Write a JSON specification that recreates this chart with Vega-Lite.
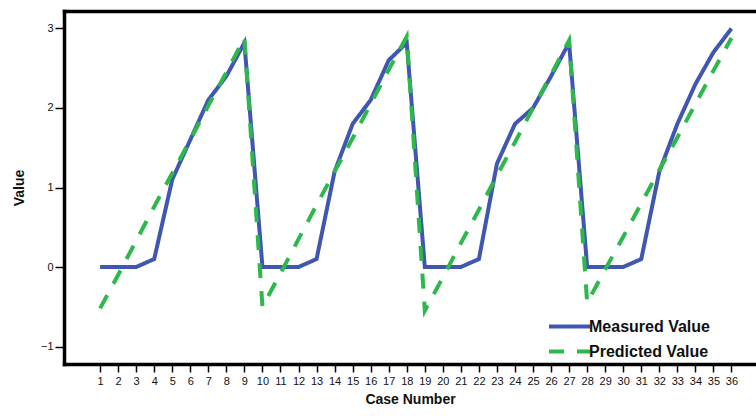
{
  "$schema": "https://vega.github.io/schema/vega-lite/v6.json",
  "width": 692,
  "height": 353,
  "autosize": {"type": "none"},
  "padding": {"left": 64, "top": 11, "right": 0, "bottom": 52},
  "background": "white",
  "config": {
    "view": {"stroke": null},
    "font": "Liberation Sans",
    "axis": {"grid": false, "domainColor": "#000", "domainWidth": 3.5, "domainCap": "square", "tickColor": "#000", "tickWidth": 1.5, "labelColor": "#111", "labelFontSize": 11, "titleColor": "#111", "titleFontSize": 14, "titleFontWeight": "bold"}
  },
  "data": {"values": [
    {"case": 1, "series": "Measured Value", "value": 0},
    {"case": 2, "series": "Measured Value", "value": 0},
    {"case": 3, "series": "Measured Value", "value": 0},
    {"case": 4, "series": "Measured Value", "value": 0.1},
    {"case": 5, "series": "Measured Value", "value": 1.1},
    {"case": 6, "series": "Measured Value", "value": 1.6},
    {"case": 7, "series": "Measured Value", "value": 2.1},
    {"case": 8, "series": "Measured Value", "value": 2.4},
    {"case": 9, "series": "Measured Value", "value": 2.82},
    {"case": 10, "series": "Measured Value", "value": 0},
    {"case": 11, "series": "Measured Value", "value": 0},
    {"case": 12, "series": "Measured Value", "value": 0},
    {"case": 13, "series": "Measured Value", "value": 0.1},
    {"case": 14, "series": "Measured Value", "value": 1.2},
    {"case": 15, "series": "Measured Value", "value": 1.8},
    {"case": 16, "series": "Measured Value", "value": 2.1},
    {"case": 17, "series": "Measured Value", "value": 2.6},
    {"case": 18, "series": "Measured Value", "value": 2.82},
    {"case": 19, "series": "Measured Value", "value": 0},
    {"case": 20, "series": "Measured Value", "value": 0},
    {"case": 21, "series": "Measured Value", "value": 0},
    {"case": 22, "series": "Measured Value", "value": 0.1},
    {"case": 23, "series": "Measured Value", "value": 1.3},
    {"case": 24, "series": "Measured Value", "value": 1.8},
    {"case": 25, "series": "Measured Value", "value": 2.0},
    {"case": 26, "series": "Measured Value", "value": 2.4},
    {"case": 27, "series": "Measured Value", "value": 2.82},
    {"case": 28, "series": "Measured Value", "value": 0},
    {"case": 29, "series": "Measured Value", "value": 0},
    {"case": 30, "series": "Measured Value", "value": 0},
    {"case": 31, "series": "Measured Value", "value": 0.1},
    {"case": 32, "series": "Measured Value", "value": 1.2},
    {"case": 33, "series": "Measured Value", "value": 1.8},
    {"case": 34, "series": "Measured Value", "value": 2.3},
    {"case": 35, "series": "Measured Value", "value": 2.7},
    {"case": 36, "series": "Measured Value", "value": 3.0},
    {"case": 1, "series": "Predicted Value", "value": -0.52},
    {"case": 2, "series": "Predicted Value", "value": -0.1},
    {"case": 3, "series": "Predicted Value", "value": 0.33},
    {"case": 4, "series": "Predicted Value", "value": 0.76},
    {"case": 5, "series": "Predicted Value", "value": 1.18},
    {"case": 6, "series": "Predicted Value", "value": 1.6},
    {"case": 7, "series": "Predicted Value", "value": 2.03},
    {"case": 8, "series": "Predicted Value", "value": 2.45},
    {"case": 9, "series": "Predicted Value", "value": 2.88},
    {"case": 10, "series": "Predicted Value", "value": -0.5},
    {"case": 11, "series": "Predicted Value", "value": -0.08},
    {"case": 12, "series": "Predicted Value", "value": 0.35},
    {"case": 13, "series": "Predicted Value", "value": 0.78},
    {"case": 14, "series": "Predicted Value", "value": 1.2},
    {"case": 15, "series": "Predicted Value", "value": 1.62},
    {"case": 16, "series": "Predicted Value", "value": 2.05},
    {"case": 17, "series": "Predicted Value", "value": 2.48},
    {"case": 18, "series": "Predicted Value", "value": 2.9},
    {"case": 19, "series": "Predicted Value", "value": -0.55},
    {"case": 20, "series": "Predicted Value", "value": -0.13},
    {"case": 21, "series": "Predicted Value", "value": 0.3},
    {"case": 22, "series": "Predicted Value", "value": 0.72},
    {"case": 23, "series": "Predicted Value", "value": 1.15},
    {"case": 24, "series": "Predicted Value", "value": 1.57},
    {"case": 25, "series": "Predicted Value", "value": 2.0},
    {"case": 26, "series": "Predicted Value", "value": 2.42},
    {"case": 27, "series": "Predicted Value", "value": 2.85},
    {"case": 28, "series": "Predicted Value", "value": -0.45},
    {"case": 29, "series": "Predicted Value", "value": -0.03},
    {"case": 30, "series": "Predicted Value", "value": 0.38},
    {"case": 31, "series": "Predicted Value", "value": 0.8},
    {"case": 32, "series": "Predicted Value", "value": 1.22},
    {"case": 33, "series": "Predicted Value", "value": 1.63},
    {"case": 34, "series": "Predicted Value", "value": 2.05},
    {"case": 35, "series": "Predicted Value", "value": 2.47},
    {"case": 36, "series": "Predicted Value", "value": 2.88}
  ]},
  "encoding": {
    "y": {"field": "value", "type": "quantitative",
      "scale": {"domain": [-1.22, 3.22], "nice": false, "zero": false},
      "axis": {"values": [-1, 0, 1, 2, 3], "tickSize": 9, "labelPadding": 2, "title": "Value", "titlePadding": 14}},
    "color": {"field": "series", "type": "nominal",
      "scale": {"domain": ["Measured Value", "Predicted Value"], "range": ["#3F57B0", "#2DB84C"]},
      "legend": {"title": null, "orient": "none", "legendX": 483, "legendY": 303, "symbolType": "stroke", "symbolSize": 1681, "symbolStrokeWidth": 4, "labelFontSize": 16, "labelFontWeight": "bold", "labelColor": "#111", "labelOffset": -3, "clipHeight": 25, "rowPadding": 0, "padding": 0}},
    "strokeDash": {"field": "series", "type": "nominal",
      "scale": {"domain": ["Measured Value", "Predicted Value"], "range": [[1, 0], [15, 13]]},
      "legend": {"title": null, "orient": "none", "legendX": 483, "legendY": 303, "symbolType": "stroke", "symbolSize": 1681, "symbolStrokeWidth": 4, "labelFontSize": 16, "labelFontWeight": "bold", "labelColor": "#111", "labelOffset": -3, "clipHeight": 25, "rowPadding": 0, "padding": 0}}
  },
  "layer": [
    {
      "transform": [{"filter": "datum.series === 'Measured Value'"}],
      "mark": {"type": "line", "strokeWidth": 4},
      "encoding": {
        "x": {"field": "case", "type": "quantitative",
          "scale": {"domain": [-1, 37.36], "nice": false, "zero": false},
          "axis": {"values": [1,2,3,4,5,6,7,8,9,10,11,12,13,14,15,16,17,18,19,20,21,22,23,24,25,26,27,28,29,30,31,32,33,34,35,36], "tickSize": 8, "labelPadding": 3, "labelFlush": false, "labelOverlap": false, "title": "Case Number", "titlePadding": 6}}
      }
    },
    {
      "transform": [{"filter": "datum.series === 'Predicted Value'"}],
      "mark": {"type": "line", "strokeWidth": 4},
      "encoding": {
        "x": {"field": "case", "type": "quantitative",
          "scale": {"domain": [-1, 37.36], "nice": false, "zero": false},
          "axis": {"orient": "top", "ticks": false, "labels": false, "title": null}}
      }
    }
  ],
  "resolve": {"axis": {"x": "independent"}}
}
